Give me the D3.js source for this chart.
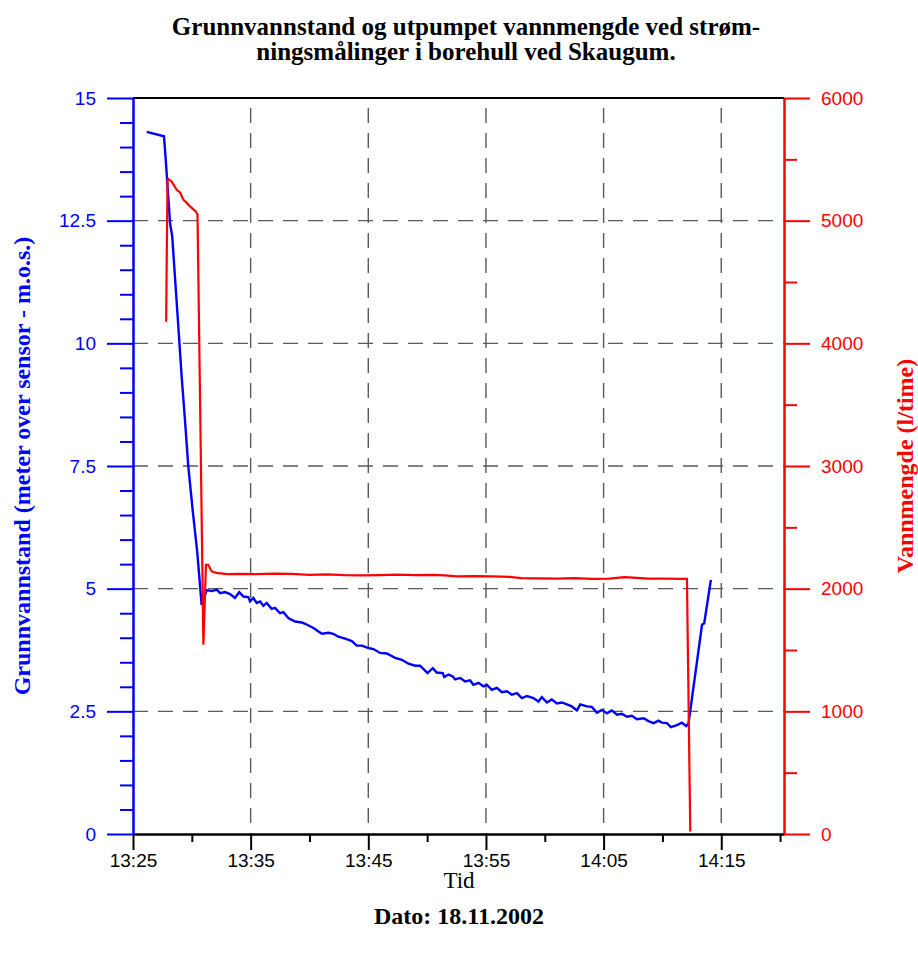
<!DOCTYPE html>
<html>
<head>
<meta charset="utf-8">
<script src="https://cdn.jsdelivr.net/npm/d3@7"></script>
<style>
  body { margin: 0; background: #fff; }
</style>
</head>
<body>
<script>
// Grunnvannstand (m.o.s.) - tid og verdi
const grunnvannTid = [
  "13:26:10","13:27:38","13:27:47","13:28:09","13:28:20","13:28:51","13:29:08","13:29:25","13:29:42","13:30:04",
  "13:30:28","13:30:50","13:31:16","13:31:41","13:32:07","13:32:24","13:32:49","13:33:15","13:33:40","13:34:02",
  "13:34:23","13:34:48","13:34:57","13:35:14","13:35:31","13:35:48","13:36:05","13:36:22","13:36:47","13:37:04",
  "13:37:30","13:37:47","13:38:12","13:38:47","13:39:21","13:39:46","13:40:20","13:41:03","13:41:37","13:42:02",
  "13:42:27","13:43:02","13:43:36","13:44:01","13:44:27","13:45:01","13:45:26","13:46:00","13:46:34","13:47:17",
  "13:47:51","13:48:25","13:48:59","13:49:24","13:50:02","13:50:29","13:50:49","13:51:20","13:51:27","13:51:49",
  "13:52:11","13:52:23","13:52:49","13:53:14","13:53:39","13:53:56","13:54:22","13:54:47","13:55:05","13:55:30",
  "13:55:56","13:56:21","13:56:47","13:57:12","13:57:38","13:58:03","13:58:29","13:59:02","13:59:28","13:59:45",
  "14:00:11","14:00:36","14:01:02","14:01:27","14:01:53","14:02:18","14:02:44","14:03:01","14:03:35","14:04:00",
  "14:04:26","14:04:51","14:05:17","14:05:42","14:06:08","14:06:33","14:06:59","14:07:24","14:07:50","14:08:24",
  "14:08:49","14:09:15","14:09:40","14:09:57","14:10:23","14:10:43","14:11:14","14:11:39","14:12:01","14:12:13",
  "14:13:22","14:13:33","14:14:07"
];
const grunnvannstand = [
  14.31, 14.22, 13.74, 12.45, 12.18, 10.35, 9.33, 8.44, 7.49, 6.61,
  5.73, 4.67, 4.97, 4.95, 4.98, 4.91, 4.93, 4.89, 4.81, 4.93,
  4.84, 4.83, 4.74, 4.81, 4.71, 4.74, 4.65, 4.71, 4.59, 4.61,
  4.50, 4.52, 4.40, 4.33, 4.31, 4.27, 4.20, 4.08, 4.10, 4.08,
  4.02, 3.98, 3.93, 3.84, 3.84, 3.79, 3.77, 3.69, 3.68, 3.59,
  3.55, 3.47, 3.43, 3.43, 3.28, 3.38, 3.29, 3.28, 3.20, 3.25,
  3.21, 3.15, 3.18, 3.11, 3.13, 3.04, 3.08, 3.01, 3.04, 2.94,
  2.98, 2.89, 2.91, 2.84, 2.87, 2.77, 2.81, 2.77, 2.70, 2.79,
  2.68, 2.74, 2.66, 2.68, 2.64, 2.60, 2.52, 2.64, 2.60, 2.59,
  2.47, 2.53, 2.46, 2.52, 2.43, 2.45, 2.39, 2.41, 2.34, 2.36,
  2.30, 2.26, 2.31, 2.27, 2.26, 2.18, 2.22, 2.27, 2.20, 2.25,
  4.27, 4.29, 5.18
];

// Vannmengde (l/time) - tid og verdi
const vannmengdeTid = [
  "13:27:49","13:27:56","13:28:00","13:28:17","13:28:43","13:29:00","13:29:17","13:29:34","13:29:51","13:30:20",
  "13:30:29","13:30:59","13:31:12","13:31:24","13:31:41","13:32:07","13:32:58","13:34:00","13:35:30","13:37:00",
  "13:38:30","13:40:00","13:41:30","13:43:00","13:44:30","13:46:00","13:47:30","13:49:00","13:50:30","13:51:30",
  "13:52:30","13:54:00","13:55:30","13:57:00","13:58:00","13:59:30","14:01:00","14:02:30","14:04:00","14:05:30",
  "14:06:45","14:07:30","14:08:45","14:10:00","14:11:30","14:12:05","14:12:22"
];
const vannmengde = [
  4176, 5333, 5340, 5320, 5252, 5230, 5171, 5145, 5116, 5075,
  5050, 1543, 2195, 2195, 2141, 2128, 2118, 2120, 2118, 2122,
  2120, 2112, 2116, 2110, 2108, 2110, 2115, 2110, 2112, 2108,
  2100, 2102, 2100, 2096, 2086, 2084, 2082, 2086, 2080, 2082,
  2094, 2090, 2082, 2083, 2080, 2080, 20
];

// Akser
const xMajor = ["13:25","13:35","13:45","13:55","14:05","14:15"];
const xMinor = ["13:30","13:40","13:50","14:00","14:10","14:20"];
const yVenstre = [0, 2.5, 5, 7.5, 10, 12.5, 15];
const yHoyre = [0, 1000, 2000, 3000, 4000, 5000, 6000];

const w = 918;
const h = 955;
const pLeft = 133, pRight = 784, pTop = 98, pBottom = 834;
const blue = "#0000ff";
const red = "#ff0000";

const parseTime = d3.timeParse("%H:%M:%S");
const parseHM = d3.timeParse("%H:%M");

const svg = d3.select("body")
  .append("svg")
  .attr("width", w)
  .attr("height", h);

// Skalaer
const xScale = d3.scaleTime()
  .domain([parseHM("13:25"), parseTime("14:20:20")])
  .range([pLeft, pRight]);
const yLeft = d3.scaleLinear().domain([0, 15]).range([pBottom, pTop]);
const yRight = d3.scaleLinear().domain([0, 6000]).range([pBottom, pTop]);

// Rutenett
const grid = svg.append("g")
  .attr("stroke", "#5a5a5a")
  .attr("stroke-width", 1.4)
  .attr("stroke-dasharray", "15,10");
grid.selectAll("line.v")
  .data(xMajor.slice(1))
  .enter().append("line")
  .attr("x1", d => xScale(parseHM(d)))
  .attr("x2", d => xScale(parseHM(d)))
  .attr("y1", pTop + 10).attr("y2", pBottom);
grid.selectAll("line.h")
  .data(yVenstre.filter(d => d > 0 && d < 15))
  .enter().append("line")
  .attr("x1", pLeft).attr("x2", pRight)
  .attr("y1", d => yLeft(d)).attr("y2", d => yLeft(d));

// Linjer
const blueData = grunnvannTid.map((t, i) => [parseTime(t), grunnvannstand[i]]);
const redData = vannmengdeTid.map((t, i) => [parseTime(t), vannmengde[i]]);

svg.append("path")
  .datum(blueData)
  .attr("fill", "none")
  .attr("stroke", blue)
  .attr("stroke-width", 2.4)
  .attr("d", d3.line().x(d => xScale(d[0])).y(d => yLeft(d[1])));

svg.append("path")
  .datum(redData)
  .attr("fill", "none")
  .attr("stroke", red)
  .attr("stroke-width", 2.2)
  .attr("d", d3.line().x(d => xScale(d[0])).y(d => yRight(d[1])));

// Topplinje
svg.append("line")
  .attr("x1", pLeft).attr("x2", pRight)
  .attr("y1", pTop).attr("y2", pTop)
  .attr("stroke", "#000").attr("stroke-width", 2);

function styleAxis(g, color, font) {
  g.select(".domain").attr("stroke", color).attr("stroke-width", 2);
  g.selectAll(".tick line").attr("stroke", color).attr("stroke-width", 2);
  g.selectAll(".tick text")
    .attr("fill", color)
    .style("font-family", "'Liberation Sans', Arial, sans-serif")
    .style("font-size", font);
}

// X-akse
const xAxis = svg.append("g")
  .attr("transform", `translate(0, ${pBottom})`)
  .call(d3.axisBottom(xScale)
    .tickValues(xMajor.map(parseHM))
    .tickFormat(d3.timeFormat("%H:%M"))
    .tickSizeInner(16).tickSizeOuter(0).tickPadding(4));
styleAxis(xAxis, "#000", "19px");
svg.append("g")
  .attr("transform", `translate(0, ${pBottom})`)
  .call(d3.axisBottom(xScale)
    .tickValues(xMinor.map(parseHM))
    .tickFormat("").tickSizeInner(8).tickSizeOuter(0))
  .call(g => styleAxis(g, "#000", "19px"));

// Venstre akse
const minorLeft = d3.range(0, 15.01, 0.5).filter(d => !yVenstre.includes(d));
svg.append("g")
  .attr("transform", `translate(${pLeft}, 0)`)
  .call(d3.axisLeft(yLeft).tickValues(minorLeft).tickFormat("").tickSizeInner(13).tickSizeOuter(0))
  .call(g => styleAxis(g, blue, "19px"));
const yAxisL = svg.append("g")
  .attr("transform", `translate(${pLeft}, 0)`)
  .call(d3.axisLeft(yLeft).tickValues(yVenstre).tickFormat(d => String(d))
    .tickSizeInner(26).tickSizeOuter(0).tickPadding(11));
styleAxis(yAxisL, blue, "19px");

// Høyre akse
const minorRight = d3.range(500, 6000, 1000);
svg.append("g")
  .attr("transform", `translate(${pRight}, 0)`)
  .call(d3.axisRight(yRight).tickValues(minorRight).tickFormat("").tickSizeInner(13).tickSizeOuter(0))
  .call(g => styleAxis(g, red, "19px"));
const yAxisR = svg.append("g")
  .attr("transform", `translate(${pRight}, 0)`)
  .call(d3.axisRight(yRight).tickValues(yHoyre).tickFormat(d => String(d))
    .tickSizeInner(26).tickSizeOuter(0).tickPadding(11));
styleAxis(yAxisR, red, "19px");

// Tekster
const serif = "'Liberation Serif', 'Times New Roman', serif";
svg.append("text")
  .attr("x", 466).attr("y", 35)
  .attr("text-anchor", "middle")
  .style("font-family", serif).style("font-size", "25px").style("font-weight", "bold")
  .text("Grunnvannstand og utpumpet vannmengde ved strøm-");
svg.append("text")
  .attr("x", 466).attr("y", 60)
  .attr("text-anchor", "middle")
  .style("font-family", serif).style("font-size", "25px").style("font-weight", "bold")
  .text("ningsmålinger i borehull ved Skaugum.");

svg.append("text")
  .attr("x", 459).attr("y", 888)
  .attr("text-anchor", "middle")
  .style("font-family", serif).style("font-size", "23px")
  .text("Tid");

svg.append("text")
  .attr("x", 459).attr("y", 924)
  .attr("text-anchor", "middle")
  .style("font-family", serif).style("font-size", "24px").style("font-weight", "bold")
  .text("Dato: 18.11.2002");

svg.append("text")
  .attr("transform", `translate(30, ${(pTop + pBottom) / 2}) rotate(-90)`)
  .attr("text-anchor", "middle")
  .attr("fill", blue)
  .style("font-family", serif).style("font-size", "24px").style("font-weight", "bold")
  .text("Grunnvannstand (meter over sensor - m.o.s.)");

svg.append("text")
  .attr("transform", `translate(913, ${(pTop + pBottom) / 2}) rotate(-90)`)
  .attr("text-anchor", "middle")
  .attr("fill", red)
  .style("font-family", serif).style("font-size", "24px").style("font-weight", "bold")
  .text("Vannmengde (l/time)");
</script>
</body>
</html>
